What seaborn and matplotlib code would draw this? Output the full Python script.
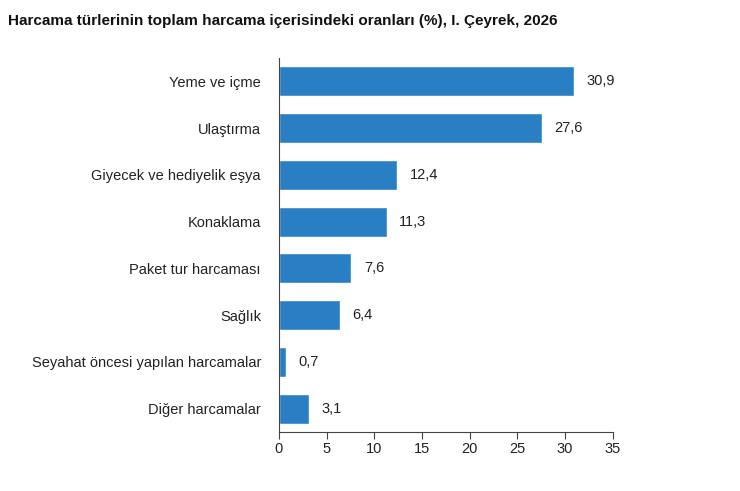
import seaborn as sns
import matplotlib.pyplot as plt
import pandas as pd

categories = ['Yeme ve içme', 'Ulaştırma', 'Giyecek ve hediyelik eşya', 'Konaklama',
              'Paket tur harcaması', 'Sağlık', 'Seyahat öncesi yapılan harcamalar',
              'Diğer harcamalar']
values = [30.9, 27.6, 12.4, 11.3, 7.6, 6.4, 0.7, 3.1]
xticks = [0, 5, 10, 15, 20, 25, 30, 35]

df = pd.DataFrame({'kategori': categories, 'oran': values})

sns.set_style('white')
plt.rcParams['font.family'] = ['Liberation Sans', 'DejaVu Sans']

fig = plt.figure(figsize=(7.4, 4.91), dpi=100)
ax = fig.add_axes([0.377, 0.120, 0.451, 0.762])

sns.barplot(data=df, x='oran', y='kategori', color='#2a7fc4', saturation=1,
            width=0.64, ax=ax)

for i, v in enumerate(values):
    ax.annotate(f'{v:.1f}'.replace('.', ','), xy=(v, i), xytext=(9, 0),
                textcoords='offset points', va='center', ha='left',
                fontsize=10.5, color='#222222')

ax.set_xlim(0, 35)
ax.set_ylim(7.5, -0.5)
ax.set_xticks(xticks)
ax.set_xticklabels([str(t) for t in xticks], fontsize=10.5, color='#222222')
ax.tick_params(axis='x', direction='out', length=5, width=0.8, color='#444444', bottom=True, pad=2)
ax.tick_params(axis='y', length=0, labelsize=10.5, labelcolor='#222222', pad=13)
ax.set_xlabel('')
ax.set_ylabel('')
for s in ['top', 'right']:
    ax.spines[s].set_visible(False)
for s in ['left', 'bottom']:
    ax.spines[s].set_color('#444444')
    ax.spines[s].set_linewidth(0.8)

fig.text(0.011, 0.958, 'Harcama türlerinin toplam harcama içerisindeki oranları (%), I. Çeyrek, 2026',
         fontsize=11, fontweight='bold', ha='left', va='center', color='#111111')

fig.savefig('out.png', dpi=100)
